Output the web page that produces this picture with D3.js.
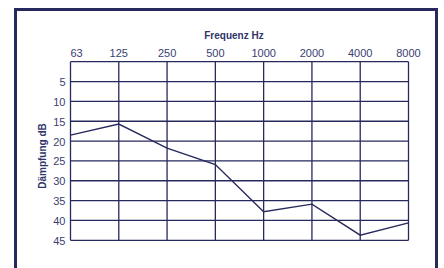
<!DOCTYPE html>
<html>
<head>
<meta charset="utf-8">
<script src="https://cdn.jsdelivr.net/npm/d3@7"></script>
<style>
  body { margin: 0; background: #fff; }
  text { font-family: "Liberation Sans", Arial, sans-serif; }
</style>
</head>
<body>
<script>
// frequencies (top axis) and measured attenuation
const freqs = ["63", "125", "250", "500", "1000", "2000", "4000", "8000"];
const daempfung = [18.5, 15.7, 21.8, 25.9, 37.8, 35.9, 43.7, 40.6];
const dbTicks = [5, 10, 15, 20, 25, 30, 35, 40, 45];

const navy = "#27295c";

// create svg
var svg = d3.select("body")
            .append("svg")
            .attr("width", 444)
            .attr("height", 268);

// outer frame, runs past the bottom edge
svg.append("rect")
   .attr("x", 15.5).attr("y", 9.5)
   .attr("width", 421).attr("height", 300)
   .attr("fill", "none")
   .attr("stroke", navy)
   .attr("stroke-width", 3);

// scales
var x = d3.scalePoint().domain(freqs).range([70.5, 408.5]);
var y = d3.scaleLinear().domain([0, 45]).range([61.7, 240.3]);

// vertical grid lines
svg.selectAll(".vline")
   .data(freqs)
   .enter()
   .append("line")
   .attr("x1", (d) => x(d)).attr("x2", (d) => x(d))
   .attr("y1", y(0)).attr("y2", y(45))
   .attr("stroke", navy)
   .attr("stroke-width", 1.3);

// horizontal grid lines
svg.selectAll(".hline")
   .data([0].concat(dbTicks))
   .enter()
   .append("line")
   .attr("x1", x("63")).attr("x2", x("8000"))
   .attr("y1", (d) => y(d)).attr("y2", (d) => y(d))
   .attr("stroke", navy)
   .attr("stroke-width", 1.3);

// top labels (frequencies)
svg.selectAll(".flabel")
   .data(freqs)
   .enter()
   .append("text")
   .attr("x", (d, i) => i == 0 ? x(d) : x(d))
   .attr("y", 57)
   .attr("text-anchor", (d, i) => i == 0 ? "start" : "middle")
   .attr("font-size", 11)
   .attr("fill", "#3a4070")
   .text((d) => d);

// left labels (dB)
svg.selectAll(".dlabel")
   .data(dbTicks)
   .enter()
   .append("text")
   .attr("x", 65.5)
   .attr("y", (d) => y(d) + 4.5)
   .attr("text-anchor", "end")
   .attr("font-size", 11)
   .attr("fill", "#3a4070")
   .text((d) => d);

// axis titles
svg.append("text")
   .attr("x", 234)
   .attr("y", 39)
   .attr("text-anchor", "middle")
   .attr("font-size", 10)
   .attr("font-weight", "bold")
   .attr("fill", "#2f3468")
   .text("Frequenz Hz");

svg.append("text")
   .attr("transform", "translate(46,156) rotate(-90)")
   .attr("text-anchor", "middle")
   .attr("font-size", 10)
   .attr("font-weight", "bold")
   .attr("fill", "#2f3468")
   .text("Dämpfung dB");

// data line
var line = d3.line()
             .x((d, i) => x(freqs[i]))
             .y((d) => y(d));

svg.append("path")
   .datum(daempfung)
   .attr("d", line)
   .attr("fill", "none")
   .attr("stroke", navy)
   .attr("stroke-width", 1.4);
</script>
</body>
</html>
